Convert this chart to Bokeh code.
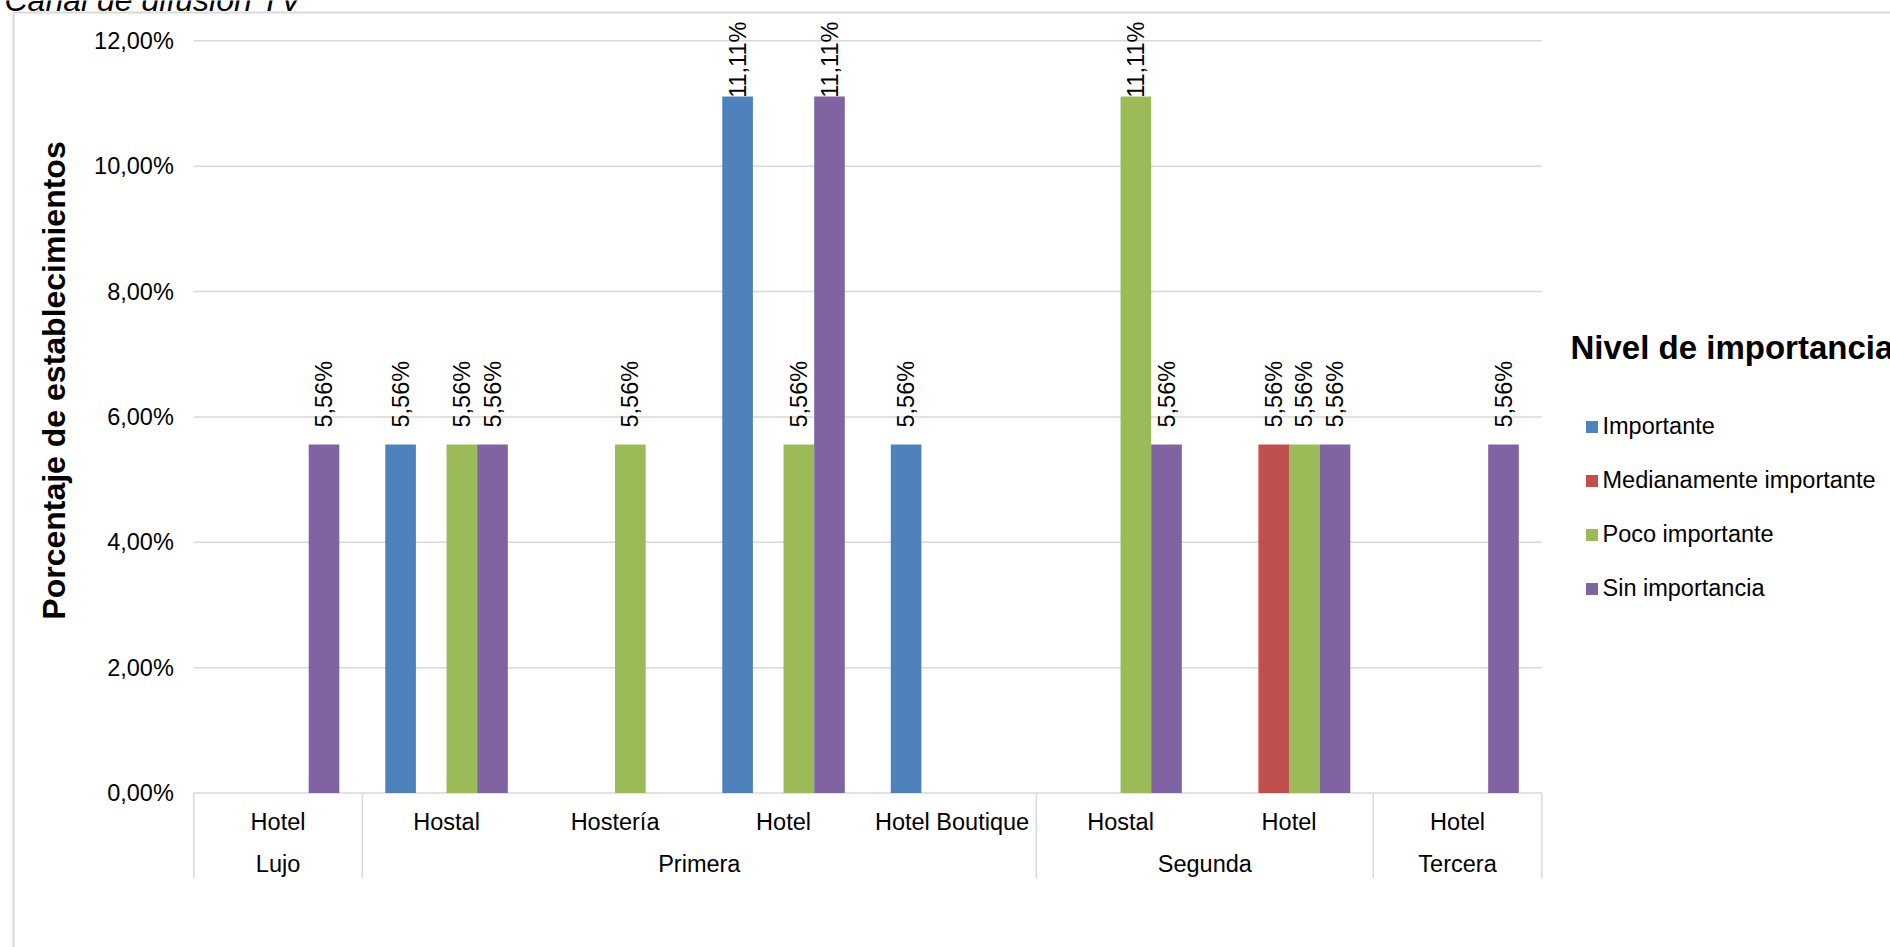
import numpy as np
from bokeh.plotting import figure
from bokeh.models import ColumnDataSource, Range1d, Legend, LegendItem
from bokeh.core.properties import value
from bokeh.embed import file_html
from bokeh.resources import INLINE

# ---------------- data ----------------
chart_title = "Canal de difusión TV"
y_title = "Porcentaje de establecimientos"
legend_title = "Nivel de importancia"

groups = ["Lujo", "Primera", "Primera", "Primera", "Primera", "Segunda", "Segunda", "Tercera"]
types = ["Hotel", "Hostal", "Hostería", "Hotel", "Hotel Boutique", "Hostal", "Hotel", "Hotel"]

series = ["Importante", "Medianamente importante", "Poco importante", "Sin importancia"]
importante = [None, 5.56, None, 11.11, 5.56, None, None, None]
medianamente = [None, None, None, None, None, None, 5.56, None]
poco = [None, 5.56, 5.56, 5.56, None, 11.11, 5.56, None]
sin_imp = [5.56, 5.56, None, 11.11, None, 5.56, 5.56, 5.56]
colors = ["#4F81BD", "#C0504D", "#9BBB59", "#8064A2"]

y_ticks = [0, 2, 4, 6, 8, 10, 12]
y_tick_labels = ["0,00%", "2,00%", "4,00%", "6,00%", "8,00%", "10,00%", "12,00%"]

# ---------------- layout (pixel geometry of the plot area) ----------------
FONT = "Liberation Sans"
W, H = 1890, 947
PX_LEFT, PX_RIGHT = 193.3, 1541.3        # plot area, horizontal
PX_Y0, PX_Y12 = 792.5, 40.3               # pixel rows of 0 % and 12 %
PX_CAT_BOTTOM = 878                        # bottom of the category-axis separators
n_cat = len(types)
pxu_x = (PX_RIGHT - PX_LEFT) / n_cat
pxu_y = (PX_Y0 - PX_Y12) / 12.0
x_range = Range1d(-PX_LEFT / pxu_x, n_cat + (W - PX_RIGHT) / pxu_x)
y_range = Range1d(-(H - PX_Y0) / pxu_y, 12 + PX_Y12 / pxu_y)
y_cat_bottom = -(PX_CAT_BOTTOM - PX_Y0) / pxu_y

p = figure(width=W, height=H, x_range=x_range, y_range=y_range,
           output_backend="svg", toolbar_location=None,
           x_axis_location=None, y_axis_location=None,
           min_border=0, min_border_left=0, min_border_right=0,
           min_border_top=0, min_border_bottom=0)
p.outline_line_color = None
p.background_fill_color = "white"
p.border_fill_color = "white"
p.grid.visible = False

GRID = "#D9D9D9"
TXT = dict(text_font=value(FONT), text_font_size="23.5px", text_color="#000000")

# chart-area border (left and top edges)
bx = (13 - PX_LEFT) / pxu_x
by = 12 + (PX_Y12 - 12) / pxu_y
p.segment(x0=[bx, bx], y0=[by, by], x1=[x_range.end + 1, bx], y1=[by, y_range.start - 1],
          line_color=GRID, line_width=2)

# horizontal gridlines
p.segment(x0=[0] * len(y_ticks), x1=[n_cat] * len(y_ticks), y0=y_ticks, y1=y_ticks,
          line_color=GRID, line_width=1.5)

# y tick labels
p.text(x=[0] * len(y_ticks), y=y_ticks, text=y_tick_labels, x_offset=-20,
       text_align="right", text_baseline="middle", **TXT)

# y axis title
p.text(x=[0], y=[0], text=[y_title], x_offset=53.5 - PX_LEFT, y_offset=380 - PX_Y0,
       angle=np.pi / 2, text_align="center", text_baseline="middle",
       text_font=value(FONT), text_font_size="32px", text_font_style="bold",
       text_color="#000000")

# chart title (cut by the top edge as in the original)
p.text(x=[0], y=[12], text=[chart_title], x_offset=4 - PX_LEFT, y_offset=-1 - PX_Y12,
       text_align="left", text_baseline="middle",
       text_font=value(FONT), text_font_size="32px", text_font_style="italic",
       text_color="#000000")

# ---------------- bars ----------------
bw = 1.0 / 5.5
offsets = [(-1.5 + i) * bw for i in range(4)]
all_vals = [importante, medianamente, poco, sin_imp]
idx = np.arange(n_cat)
items = []
for name, vals, col, off in zip(series, all_vals, colors, offsets):
    xs = [i + 0.5 + off for i, v in zip(idx, vals) if v is not None]
    vs = [v for v in vals if v is not None]
    labs = [("%.2f" % v).replace(".", ",") + "%" for v in vs]
    lab_y = list(np.minimum(np.array(vs) + 17 / pxu_y, 11.09))
    src = ColumnDataSource(dict(x=xs, top=vs, lab=labs, ly=lab_y))
    r = p.vbar(x="x", top="top", bottom=0, width=bw, source=src,
               fill_color=col, line_color=None)
    items.append(LegendItem(label=name, renderers=[r]))
    p.text(x="x", y="ly", text="lab", source=src, angle=np.pi / 2,
           text_align="left", text_baseline="middle", **TXT)

# ---------------- category axis (two levels) ----------------
p.text(x=list(idx + 0.5), y=[0] * n_cat, text=types, y_offset=28.5,
       text_align="center", text_baseline="middle", **TXT)

uniq_groups = list(dict.fromkeys(groups))
g_start = [groups.index(g) for g in uniq_groups]
g_end = [len(groups) - groups[::-1].index(g) for g in uniq_groups]
g_center = [(a + b) / 2 for a, b in zip(g_start, g_end)]
p.text(x=g_center, y=[0] * len(uniq_groups), text=uniq_groups, y_offset=70.5,
       text_align="center", text_baseline="middle", **TXT)

sep_x = g_start + [n_cat]
p.segment(x0=sep_x, x1=sep_x, y0=[0] * len(sep_x), y1=[y_cat_bottom] * len(sep_x),
          line_color=GRID, line_width=1.5)

# ---------------- legend ----------------
p.text(x=[n_cat], y=[0], text=[legend_title], x_offset=1570 - PX_RIGHT, y_offset=347 - PX_Y0,
       text_align="left", text_baseline="middle",
       text_font=value(FONT), text_font_size="33px", text_font_style="bold",
       text_color="#000000")

legend = Legend(items=items, location=(1583.5, H - 602),
                label_text_font=FONT, label_text_font_size="23.5px", label_text_color="#000000",
                glyph_width=15, glyph_height=15, label_height=28, label_standoff=4,
                spacing=26, padding=0, margin=0,
                background_fill_alpha=0, border_line_alpha=0)
p.add_layout(legend)

open("out.html", "w").write(file_html(p, INLINE))
